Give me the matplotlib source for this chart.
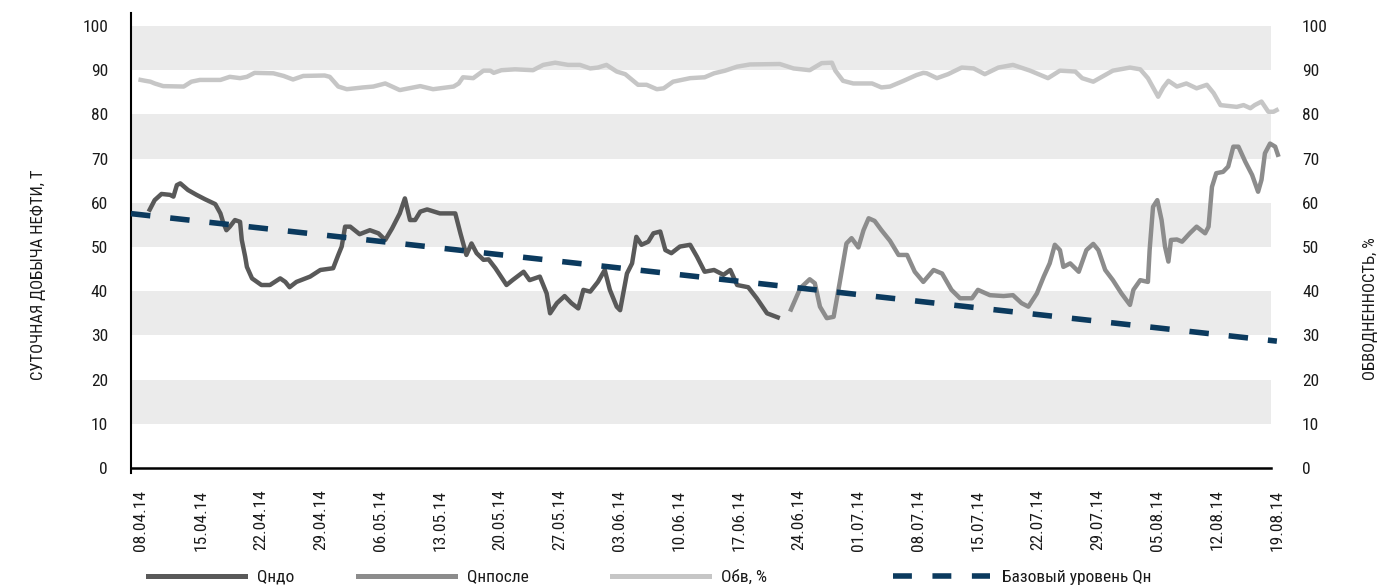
import numpy as np
import pandas as pd
import matplotlib
matplotlib.use("Agg")
import matplotlib.pyplot as plt
import matplotlib.dates as mdates
from matplotlib.lines import Line2D

plt.rcParams['font.family'] = ['Roboto Condensed', 'PT Sans Narrow', 'DejaVu Sans']

START = pd.Timestamp('2014-04-08')
END = pd.Timestamp('2014-08-19')

# Daily oil production before treatment, t (days counted from 08.04.14)
q_before_days = [0.9, 1.6, 2.4, 3.4, 3.8, 4.2, 4.6, 5.5, 6.5, 7.5, 8.7, 9.3, 9.6, 10.0,
                 10.4, 11.0, 11.6, 11.8, 12.2, 12.4, 13.0, 14.1, 15.1, 16.3, 16.9, 17.4,
                 18.2, 19.8, 21.0, 22.5, 23.1, 23.5, 23.9, 24.5, 25.6, 26.8, 27.8, 28.6,
                 29.4, 30.3, 30.9, 31.5, 32.1, 32.7, 33.5, 35.0, 36.8, 37.4, 38.1, 38.7,
                 39.3, 40.1, 40.7, 41.5, 42.8, 43.5, 44.8, 45.5, 46.7, 47.5, 47.9, 48.7,
                 49.6, 50.4, 51.2, 51.8, 52.6, 53.5, 54.3, 54.9, 55.7, 56.1, 56.9, 57.5,
                 58.0, 58.6, 59.4, 60.0, 60.8, 61.4, 62.1, 63.1, 64.3, 65.1, 66.0, 67.1,
                 68.2, 69.0, 69.8, 71.1, 72.1, 73.3, 74.8]
q_before = [58.0, 60.6, 62.0, 61.8, 61.4, 64.0, 64.4, 62.9, 61.8, 60.8, 59.7, 57.6, 55.7, 53.8,
            54.6, 56.1, 55.7, 51.6, 47.8, 45.5, 42.9, 41.4, 41.4, 42.9, 42.1, 40.9,
            42.1, 43.3, 44.8, 45.2, 48.2, 50.1, 54.6, 54.6, 52.9, 53.8, 53.1, 51.6,
            54.2, 57.6, 61.0, 56.1, 56.1, 58.0, 58.5, 57.6, 57.6, 53.1, 48.2, 50.8,
            48.6, 47.1, 47.2, 45.2, 41.4, 42.5, 44.4, 42.5, 43.3, 39.5, 35.0, 37.3,
            38.9, 37.3, 36.1, 40.3, 39.9, 42.1, 44.8, 40.3, 36.5, 35.7, 44.0, 46.3,
            52.3, 50.5, 51.2, 53.1, 53.5, 49.3, 48.6, 50.1, 50.5, 47.8, 44.4, 44.8,
            43.7, 44.8, 41.4, 40.9, 38.4, 35.0, 33.9]

# Daily oil production after treatment, t
q_after_days = [76.0, 77.2, 78.3, 78.9, 79.5, 80.3, 81.1, 81.8, 82.6, 83.2, 84.0, 84.6,
                85.2, 85.9, 86.7, 87.7, 88.7, 89.7, 90.6, 91.6, 92.8, 93.8, 94.9, 95.9,
                97.3, 98.0, 99.4, 101.0, 102.1, 103.1, 103.9, 104.9, 105.7, 106.4, 107.0,
                107.6, 108.0, 108.8, 109.8, 110.7, 111.5, 112.1, 112.9, 113.8, 114.8,
                115.8, 116.2, 117.0, 117.9, 118.1, 118.5, 119.0, 119.5, 119.9, 120.3,
                120.6, 121.3, 121.9, 122.8, 123.6, 124.6, 125.0, 125.4, 125.9, 126.7,
                127.3, 127.9, 128.5, 129.3, 130.1, 130.8, 131.2, 131.6, 132.2, 132.8, 133.2]
q_after = [35.4, 40.7, 42.7, 41.8, 36.5, 33.9, 34.2, 41.8, 50.8, 52.0, 49.9, 53.8,
           56.5, 55.9, 53.8, 51.4, 48.2, 48.2, 44.4, 42.1, 44.8, 44.0, 40.3, 38.4,
           38.4, 40.3, 39.1, 38.9, 39.1, 37.3, 36.5, 39.5, 43.3, 46.3, 50.5,
           49.3, 45.5, 46.3, 44.4, 49.3, 50.7, 49.3, 44.8, 42.5, 39.5,
           36.9, 40.3, 42.5, 42.1, 49.3, 59.1, 60.6, 56.1, 50.1, 46.7,
           51.6, 51.7, 51.2, 53.1, 54.6, 53.1, 54.6, 63.6, 66.7, 67.0,
           68.2, 72.7, 72.7, 69.3, 66.3, 62.5, 65.2, 71.2, 73.4, 72.7, 70.4]

# Water cut, %
water_days = [-0.3, 0.5, 1.1, 1.6, 2.6, 5.0, 5.9, 6.9, 9.3, 10.4, 11.6, 12.4, 13.3, 15.5,
              16.7, 17.8, 19.0, 21.5, 22.1, 23.1, 24.1, 26.0, 27.2, 28.6, 29.4, 30.3,
              32.7, 34.2, 36.6, 37.2, 37.7, 38.9, 40.1, 40.9, 41.3, 42.2, 43.8, 45.9,
              47.1, 48.5, 50.0, 51.4, 52.6, 53.5, 54.5, 55.7, 56.7, 58.2, 59.2, 60.4,
              61.2, 62.3, 64.3, 66.0, 67.1, 68.4, 69.8, 71.3, 74.8, 76.4, 78.3, 79.7,
              80.9, 81.3, 82.2, 83.4, 85.6, 86.7, 87.7, 89.3, 90.8, 91.6, 92.0, 93.2,
              94.5, 96.1, 97.5, 98.8, 100.4, 102.1, 104.1, 106.2, 107.6, 109.4, 110.2,
              111.5, 113.8, 115.8, 117.0, 117.9, 119.1, 119.7, 120.3, 121.3, 122.4,
              123.6, 124.8, 125.6, 126.4, 128.3, 129.1, 129.9, 130.4, 131.2, 132.0,
              132.6, 133.2]
water_cut = [87.9, 87.6, 87.4, 87.0, 86.4, 86.3, 87.4, 87.8, 87.8, 88.5, 88.2, 88.5, 89.4, 89.3,
             88.7, 87.9, 88.7, 88.8, 88.5, 86.3, 85.7, 86.1, 86.3, 87.0, 86.3, 85.5,
             86.4, 85.7, 86.3, 87.0, 88.4, 88.2, 89.9, 89.9, 89.4, 90.0, 90.2, 90.0,
             91.2, 91.7, 91.2, 91.2, 90.4, 90.6, 91.2, 89.7, 89.1, 86.7, 86.7, 85.7,
             85.9, 87.4, 88.2, 88.4, 89.3, 89.9, 90.8, 91.3, 91.4, 90.4, 90.0, 91.6,
             91.7, 89.9, 87.6, 87.0, 87.0, 86.1, 86.3, 87.6, 88.9, 89.4, 89.3, 88.2,
             89.1, 90.6, 90.4, 89.1, 90.6, 91.2, 89.9, 88.2, 89.9, 89.7, 88.2,
             87.4, 89.9, 90.6, 90.2, 88.2, 84.0, 86.1, 87.6, 86.3, 87.0,
             85.9, 86.7, 84.8, 82.1, 81.7, 82.1, 81.4, 82.1, 82.9, 80.6,
             80.6, 81.2]

# Base production level Qн at the start and end of the period
base_dates = [START, END]
base_level = [57.3, 28.7]

tick_dates = pd.date_range(START, END, freq='7D')
y_ticks = list(range(0, 101, 10))

C_BEFORE = '#595959'
C_AFTER = '#8c8c8c'
C_WATER = '#c6c6c6'
C_BASE = '#0b3a5e'
C_TEXT = '#1a1a1a'
BAND = '#ebebeb'
FS = 12.5


def to_dates(days):
    return START + pd.to_timedelta(np.asarray(days), unit='D')


fig = plt.figure(figsize=(13.83, 5.85), dpi=100)
ax = fig.add_axes([131 / 1383, 1 - 468 / 585, 1151 / 1383, 442 / 585])

x_left = START - pd.Timedelta(days=1.17)
x_right = START + pd.Timedelta(days=133.6)
band_end = START + pd.Timedelta(days=132.3)
ax.set_xlim(x_left, x_right)
ax.set_ylim(0, 100)

band_frac = (mdates.date2num(band_end) - mdates.date2num(x_left)) / \
            (mdates.date2num(x_right) - mdates.date2num(x_left))
for lo in range(10, 100, 20):
    ax.axhspan(lo, lo + 10, xmin=0, xmax=band_frac, color=BAND, lw=0, zorder=0)

lw = 3.2
ax.plot(to_dates(water_days), water_cut, color=C_WATER, lw=lw,
        solid_joinstyle='round', solid_capstyle='butt', clip_on=False, zorder=3)
ax.plot(to_dates(q_before_days), q_before, color=C_BEFORE, lw=lw,
        solid_joinstyle='round', solid_capstyle='butt', clip_on=False, zorder=4)
ax.plot(to_dates(q_after_days), q_after, color=C_AFTER, lw=lw,
        solid_joinstyle='round', solid_capstyle='butt', clip_on=False, zorder=4)

# Base level line, extended back to the left edge of the plot
bx = mdates.date2num(pd.DatetimeIndex(base_dates))
slope = (base_level[1] - base_level[0]) / (bx[1] - bx[0])
x0 = mdates.date2num(x_left)
base_x = [x0, bx[1]]
base_y = [base_level[0] + slope * (x0 - bx[0]), base_level[1]]
ax.plot(base_x, base_y, color=C_BASE, lw=4, dashes=(3.5, 3.6),
        dash_capstyle='butt', clip_on=False, zorder=5)

for s in ['top', 'right']:
    ax.spines[s].set_visible(False)
ax.spines['left'].set_color('black')
ax.spines['left'].set_linewidth(1.5)
ax.spines['left'].set_bounds(-1.1, 102.9)
ax.spines['bottom'].set_color('black')
ax.spines['bottom'].set_linewidth(1.8)
ax.spines['bottom'].set_bounds(mdates.date2num(x_left), mdates.date2num(band_end))

ax.set_xticks(tick_dates)
ax.xaxis.set_major_formatter(mdates.DateFormatter('%d.%m.%y'))
ax.set_yticks(y_ticks)
ax.tick_params(axis='x', length=0, pad=15.5, labelsize=FS, labelcolor=C_TEXT,
               labelrotation=90)
ax.tick_params(axis='y', length=0, pad=16.5, labelsize=FS, labelcolor=C_TEXT)
ax.grid(False)

ax2 = ax.twinx()
ax2.set_ylim(0, 100)
ax2.set_yticks(y_ticks)
for s in ax2.spines.values():
    s.set_visible(False)
ax2.tick_params(axis='y', length=0, pad=14.4, labelsize=FS, labelcolor=C_TEXT)

fig.text(38 / 1383, 1 - 380 / 585, 'СУТОЧНАЯ ДОБЫЧА НЕФТИ, Т', rotation=90,
         ha='center', va='bottom', fontsize=12, color=C_TEXT)
fig.text(1371 / 1383, 1 - 380 / 585, 'ОБВОДНЕННОСТЬ, %', rotation=90,
         ha='center', va='bottom', fontsize=12, color=C_TEXT)

# Legend entries laid out along the bottom edge
entries = [
    (148, Line2D([], [], color=C_BEFORE, lw=3.6), 'Qндо'),
    (358, Line2D([], [], color=C_AFTER, lw=3.6), 'Qнпосле'),
    (612, Line2D([], [], color=C_WATER, lw=3.6), 'Обв, %'),
    (893, Line2D([], [], color=C_BASE, lw=4, dashes=(3.4, 3.7)), 'Базовый уровень Qн'),
]
for px, handle, label in entries:
    leg = fig.legend(handles=[handle], labels=[label], loc='center left',
                     bbox_to_anchor=(px / 1383, 1 - 577 / 585), frameon=False,
                     borderpad=0, borderaxespad=0, handlelength=5.59,
                     handletextpad=0.69, fontsize=FS)
    for t in leg.get_texts():
        t.set_color(C_TEXT)

fig.savefig('out.png', dpi=100)
